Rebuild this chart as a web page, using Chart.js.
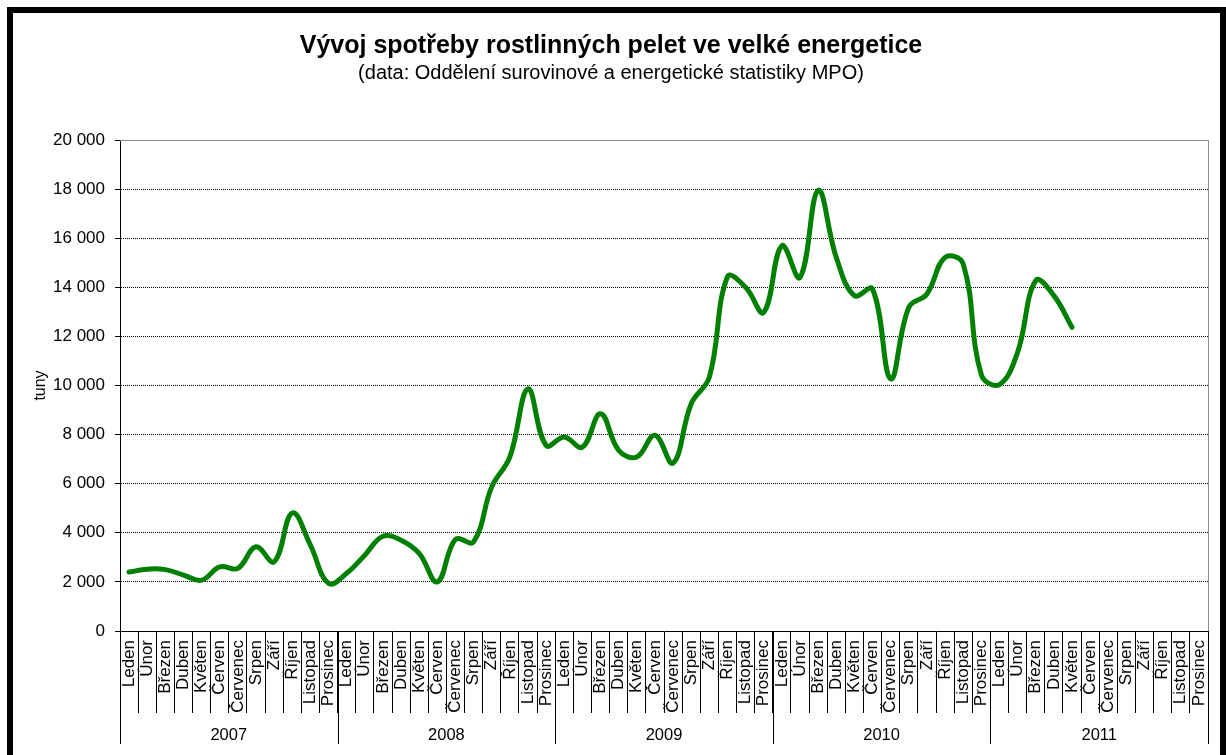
<!DOCTYPE html>
<html lang="cs">
<head>
<meta charset="UTF-8">
<title>Vývoj spotřeby rostlinných pelet ve velké energetice</title>
<script src="https://cdn.jsdelivr.net/npm/chart.js"></script>
<style>
  html, body { margin: 0; padding: 0; background: #fff; overflow: hidden; }
  #wrap { position: relative; width: 1226px; height: 755px; }
  #frame { position: absolute; left: 7px; top: 7px; width: 1219px; height: 800px;
           box-sizing: border-box; border: 6px solid #000; pointer-events: none; }
</style>
</head>
<body>
<div id="wrap">
  <canvas id="chart" width="1226" height="755"></canvas>
  <div id="frame"></div>
</div>
<script>
// months and years for the two-level x axis
const months = ['Leden', 'Únor', 'Březen', 'Duben', 'Květen', 'Červen',
                'Červenec', 'Srpen', 'Září', 'Říjen', 'Listopad', 'Prosinec'];
const years = ['2007', '2008', '2009', '2010', '2011'];

// monthly consumption, tonnes
const t2007 = [2400, 2520, 2500, 2280, 2070, 2610, 2550, 3430, 2820, 4810, 3500, 1940];
const t2008 = [2350, 3090, 3860, 3700, 3160, 2000, 3730, 3630, 5870, 7090, 9860, 7560];
const t2009 = [7900, 7490, 8850, 7360, 7090, 7970, 6840, 9260, 10340, 14430, 14000, 12980];
const t2010 = [15690, 14400, 17950, 15220, 13660, 13930, 10270, 13180, 13730, 15220, 14950, 10440];
const t2011 = [10040, 11350, 14270, 13660, 12370];

const yTicks = { min: 0, max: 20000, step: 2000 };

const labels = years.flatMap(() => months);
const consumption = [...t2007, ...t2008, ...t2009, ...t2010, ...t2011];

const FONT = 'Liberation Sans, Arial, sans-serif';
const fmt = v => String(v).replace(/\B(?=(\d{3})+(?!\d))/g, ' ');

// year row under the month labels + plot area frame
const yearGroups = {
  id: 'yearGroups',
  afterDraw(chart) {
    const { ctx, chartArea, scales: { x } } = chart;
    const half = (x.getPixelForValue(1) - x.getPixelForValue(0)) / 2;
    const bottom = Math.round(chartArea.bottom);
    const top = Math.round(chartArea.top) + 0.5;
    const right = Math.round(chartArea.right) + 0.5;
    ctx.save();
    ctx.lineWidth = 1;
    ctx.strokeStyle = '#8c8c8c';
    ctx.beginPath();
    ctx.moveTo(Math.round(chartArea.left), top);
    ctx.lineTo(right, top);
    ctx.lineTo(right, bottom);
    ctx.stroke();

    ctx.strokeStyle = '#000';
    ctx.fillStyle = '#000';
    ctx.font = '16.5px ' + FONT;
    ctx.textAlign = 'center';
    ctx.textBaseline = 'middle';
    years.forEach((yr, k) => {
      const start = x.getPixelForValue(k * 12) - half;
      const end = x.getPixelForValue(k * 12 + 11) + half;
      const xs = [start];
      if (k === years.length - 1) xs.push(end);
      xs.forEach(px => {
        const p = Math.round(px) + 0.5;
        ctx.beginPath();
        ctx.moveTo(p, bottom);
        ctx.lineTo(p, 744);
        ctx.stroke();
      });
      ctx.fillText(yr, (start + end) / 2, 735);
    });
    ctx.restore();
  }
};

new Chart(document.getElementById('chart'), {
  type: 'line',
  data: {
    labels: labels,
    datasets: [{
      data: consumption,
      borderColor: '#008000',
      borderWidth: 5,
      tension: 0.4,
      pointRadius: 0,
      fill: false,
      borderCapStyle: 'round',
      borderJoinStyle: 'round'
    }]
  },
  options: {
    responsive: false,
    animation: false,
    layout: { padding: { top: 20, left: 14, right: 18, bottom: 0 } },
    plugins: {
      legend: { display: false },
      tooltip: { enabled: false },
      title: {
        display: true,
        text: 'Vývoj spotřeby rostlinných pelet ve velké energetice',
        color: '#000',
        font: { family: FONT, size: 25, weight: 'bold' },
        padding: { top: 11, bottom: 0 }
      },
      subtitle: {
        display: true,
        text: '(data: Oddělení surovinové a energetické statistiky MPO)',
        color: '#000',
        font: { family: FONT, size: 20 },
        padding: { top: 0, bottom: 55 }
      }
    },
    scales: {
      x: {
        offset: true,
        grid: { offset: true, drawOnChartArea: false, drawTicks: true, tickLength: 82,
                color: '#000', tickColor: '#000' },
        border: { color: '#000' },
        ticks: { autoSkip: false, minRotation: 90, maxRotation: 90, padding: -73,
                 color: '#000', font: { family: FONT, size: 17 } },
        afterFit: s => { s.height = 124; }
      },
      y: {
        min: yTicks.min,
        max: yTicks.max,
        ticks: { stepSize: yTicks.step, padding: 10, color: '#000',
                 font: { family: FONT, size: 17 }, callback: v => fmt(v) },
        grid: { color: '#000', tickColor: '#000', tickLength: 5, tickBorderDash: [] },
        border: { color: '#000', dash: [1, 1] },
        title: { display: true, text: 'tuny', color: '#000',
                 font: { family: FONT, size: 16 }, padding: { top: 17, bottom: 0 } },
        afterFit: s => { s.width = 106; }
      }
    }
  },
  plugins: [yearGroups]
});
</script>
</body>
</html>
